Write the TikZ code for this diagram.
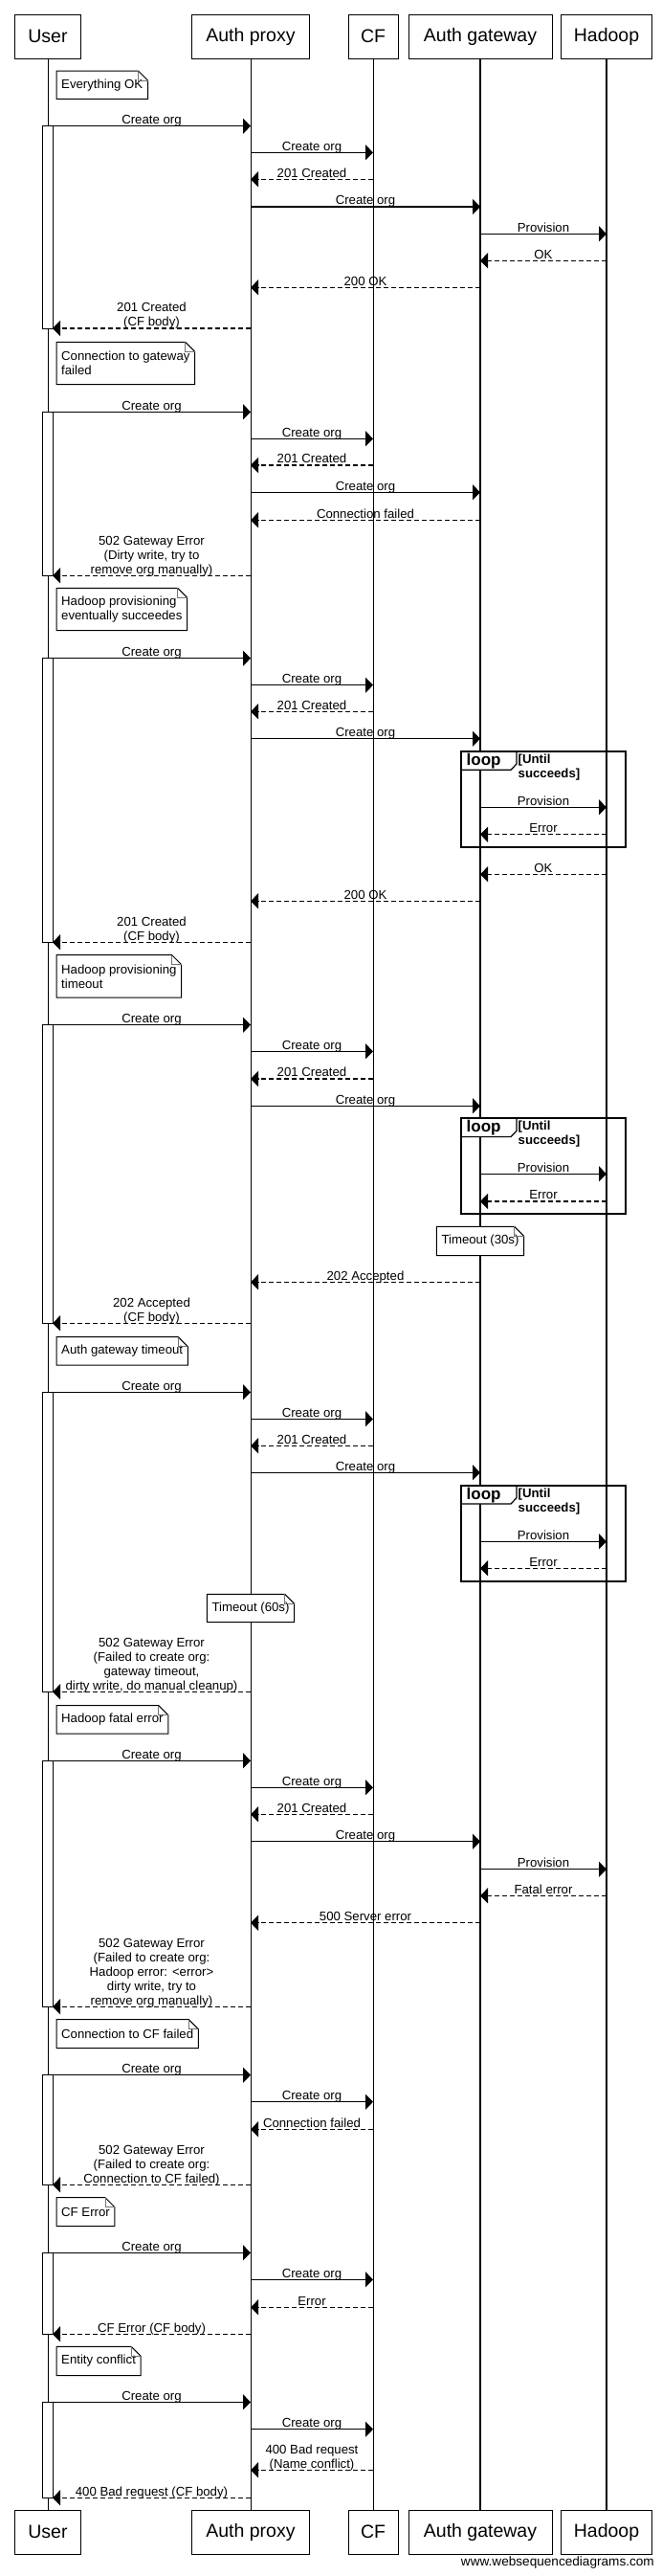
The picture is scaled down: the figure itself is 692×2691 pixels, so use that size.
\documentclass[tikz,border=0pt]{standalone}
\usepackage{fontspec}
\setmainfont{Liberation Sans}
\usetikzlibrary{arrows.meta}

\newcommand\seqml[1]{\begin{tabular}[b]{@{}c@{}}#1\end{tabular}}
\def\xU{50}\def\xUb{55}\def\xP{262}\def\xC{390}\def\xG{502}\def\xH{634}

% name, style, x1, x2, y, label
\newcommand\seqmsg[6]{%
  \coordinate (#1a) at (#3,#5);
  \coordinate (#1b) at (#4,#5);
  \draw[#2] (#1a) -- (#1b) node[lbl, pos=0.5] {\seqml{#6}};}

% [anchor] name, x, y, height, text
\newcommand\seqnote[6][north west]{%
  \node[notebox, anchor=#1, minimum height=#5] (#2) at (#3,#4) {#6};
  \draw[line width=1pt] (#2.south west) -- (#2.north west) -- ([xshift=-10pt]#2.north east)
     -- ([yshift=-10pt]#2.north east) -- (#2.south east) -- cycle;
  \draw[line width=0.7pt, black!55] ([xshift=-10pt]#2.north east) -- ([xshift=-10pt,yshift=-10pt]#2.north east)
     -- ([yshift=-10pt]#2.north east);}

% ytop, ybottom
\newcommand\seqloop[2]{%
  \draw[line width=1.2pt, fill=white] (482,#1) -- (540,#1) -- (540,{#1+13}) -- (534,{#1+19.3}) -- (482,{#1+19.3}) -- cycle;
  \draw[line width=1.8pt] (482,#1) rectangle (654,#2);
  \node[anchor=base west, inner sep=0pt, font=\bfseries\fontsize{17}{20}\selectfont] at (487.5,{#1+14.5}) {loop};
  \node[anchor=base west, inner sep=0pt, font=\bfseries\fontsize{13.2}{15}\selectfont] at (541.5,{#1+12.5})
     {\begin{tabular}[t]{@{}l@{}}[Until\\succeeds]\end{tabular}};}

\newcommand\seqbar[2]{\draw[line width=1pt, fill=white] (44,#1) rectangle (55,#2);}

\begin{document}
\begin{tikzpicture}[x=1pt, y=-1pt, font=\fontsize{13.2}{15}\selectfont,
  actor/.style={draw, line width=1pt, minimum height=46pt, inner sep=0pt, fill=white,
                font=\fontsize{19.5}{22}\selectfont},
  life/.style={line width=1pt},
  lifeb/.style={line width=1.2pt},
  msg/.style={line width=1.2pt, -{Triangle[length=8pt,width=16pt]}},
  ret/.style={msg, dash pattern=on 5pt off 3pt},
  lbl/.style={anchor=base, inner sep=0pt, yshift=2.3pt},
  notebox/.style={fill=white, inner xsep=5pt, inner ysep=0pt, align=left}]
\useasboundingbox (0,0) rectangle (692,2691);

% participants
\node[actor, minimum width=69pt]  (uT) at (\xU,38) {User};
\node[actor, minimum width=123pt] (pT) at (\xP,38) {Auth proxy};
\node[actor, minimum width=52pt]  (cT) at (\xC,38) {CF};
\node[actor, minimum width=150pt] (gT) at (\xG,38) {Auth gateway};
\node[actor, minimum width=95pt]  (hT) at (\xH,38) {Hadoop};
\node[actor, minimum width=69pt]  (uB) at (\xU,2645) {User};
\node[actor, minimum width=123pt] (pB) at (\xP,2645) {Auth proxy};
\node[actor, minimum width=52pt]  (cB) at (\xC,2645) {CF};
\node[actor, minimum width=150pt] (gB) at (\xG,2645) {Auth gateway};
\node[actor, minimum width=95pt]  (hB) at (\xH,2645) {Hadoop};
\draw[life] (uT.south) -- (uB.north);
\draw[life] (pT.south) -- (pB.north);
\draw[life] (cT.south) -- (cB.north);
\draw[lifeb] (gT.south) -- (gB.north);
\draw[lifeb] (hT.south) -- (hB.north);

% activation bars
\seqbar{131.7}{343}
\seqbar{430.3}{601.3}
\seqbar{687.7}{984.3}
\seqbar{1070.7}{1382.3}
\seqbar{1454.3}{1767.3}
\seqbar{1839.3}{2096.3}
\seqbar{2167.7}{2282.3}
\seqbar{2353.3}{2438.3}
\seqbar{2509.3}{2609.3}

% loops
\seqloop{785}{885}
\seqloop{1168.3}{1268.3}
\seqloop{1551.7}{1651.7}

% 1 Everything OK
\seqnote{n1}{59}{74}{29pt}{Everything OK}
\seqmsg{m1}{msg}{\xUb}{\xP}{131.7}{Create org}
\seqmsg{m2}{msg}{\xP}{\xC}{159.3}{Create org}
\seqmsg{m3}{ret}{\xC}{\xP}{187.3}{201 Created}
\seqmsg{m4}{msg}{\xP}{\xG}{216}{Create org}
\seqmsg{m5}{msg}{\xG}{\xH}{244.3}{Provision}
\seqmsg{m6}{ret}{\xH}{\xG}{272.3}{OK}
\seqmsg{m7}{ret}{\xG}{\xP}{300.3}{200 OK}
\seqmsg{m8}{ret}{\xP}{\xUb}{343}{201 Created\\(CF body)}

% 2 Connection to gateway failed
\seqnote{n2}{59}{357.3}{44pt}{Connection to gateway\\failed}
\seqmsg{m9}{msg}{\xUb}{\xP}{430.3}{Create org}
\seqmsg{m10}{msg}{\xP}{\xC}{458.3}{Create org}
\seqmsg{m11}{ret}{\xC}{\xP}{486}{201 Created}
\seqmsg{m12}{msg}{\xP}{\xG}{514.3}{Create org}
\seqmsg{m13}{ret}{\xG}{\xP}{543.3}{Connection failed}
\seqmsg{m14}{ret}{\xP}{\xUb}{601.3}{502 Gateway Error\\(Dirty write, try to\\remove org manually)}

% 3 Hadoop eventually succeeds
\seqnote{n3}{59}{614.3}{44pt}{Hadoop provisioning\\eventually succeedes}
\seqmsg{m15}{msg}{\xUb}{\xP}{687.7}{Create org}
\seqmsg{m16}{msg}{\xP}{\xC}{715.7}{Create org}
\seqmsg{m17}{ret}{\xC}{\xP}{743.3}{201 Created}
\seqmsg{m18}{msg}{\xP}{\xG}{771.7}{Create org}
\seqmsg{m19}{msg}{\xG}{\xH}{843.3}{Provision}
\seqmsg{m20}{ret}{\xH}{\xG}{871.7}{Error}
\seqmsg{m21}{ret}{\xH}{\xG}{913.3}{OK}
\seqmsg{m22}{ret}{\xG}{\xP}{941.3}{200 OK}
\seqmsg{m23}{ret}{\xP}{\xUb}{984.3}{201 Created\\(CF body)}

% 4 Hadoop provisioning timeout
\seqnote{n4}{59}{997.7}{44pt}{Hadoop provisioning\\timeout}
\seqmsg{m24}{msg}{\xUb}{\xP}{1070.7}{Create org}
\seqmsg{m25}{msg}{\xP}{\xC}{1098.3}{Create org}
\seqmsg{m26}{ret}{\xC}{\xP}{1127}{201 Created}
\seqmsg{m27}{msg}{\xP}{\xG}{1155.3}{Create org}
\seqmsg{m28}{msg}{\xG}{\xH}{1226.3}{Provision}
\seqmsg{m29}{ret}{\xH}{\xG}{1255}{Error}
\seqnote[north]{n5}{\xG}{1281.3}{30pt}{Timeout (30s)}
\seqmsg{m30}{ret}{\xG}{\xP}{1339.3}{202 Accepted}
\seqmsg{m31}{ret}{\xP}{\xUb}{1382.3}{202 Accepted\\(CF body)}

% 5 Auth gateway timeout
\seqnote{n6}{59}{1396.7}{29pt}{Auth gateway timeout}
\seqmsg{m32}{msg}{\xUb}{\xP}{1454.3}{Create org}
\seqmsg{m33}{msg}{\xP}{\xC}{1482.3}{Create org}
\seqmsg{m34}{ret}{\xC}{\xP}{1510.3}{201 Created}
\seqmsg{m35}{msg}{\xP}{\xG}{1538.3}{Create org}
\seqmsg{m36}{msg}{\xG}{\xH}{1610.3}{Provision}
\seqmsg{m37}{ret}{\xH}{\xG}{1638.3}{Error}
\seqnote[north]{n7}{\xP}{1665.3}{29pt}{Timeout (60s)}
\seqmsg{m38}{ret}{\xP}{\xUb}{1767.3}{502 Gateway Error\\(Failed to create org:\\gateway timeout,\\dirty write, do manual cleanup)}

% 6 Hadoop fatal error
\seqnote{n8}{59}{1781.7}{29pt}{Hadoop fatal error}
\seqmsg{m39}{msg}{\xUb}{\xP}{1839.3}{Create org}
\seqmsg{m40}{msg}{\xP}{\xC}{1867.3}{Create org}
\seqmsg{m41}{ret}{\xC}{\xP}{1895.3}{201 Created}
\seqmsg{m42}{msg}{\xP}{\xG}{1923.7}{Create org}
\seqmsg{m43}{msg}{\xG}{\xH}{1952.7}{Provision}
\seqmsg{m44}{ret}{\xH}{\xG}{1980.3}{Fatal error}
\seqmsg{m45}{ret}{\xG}{\xP}{2008.7}{500 Server error}
\seqmsg{m46}{ret}{\xP}{\xUb}{2096.3}{502 Gateway Error\\(Failed to create org:\\Hadoop error: <error>\\dirty write, try to\\remove org manually)}

% 7 Connection to CF failed
\seqnote{n9}{59}{2109.7}{29.6pt}{Connection to CF failed}
\seqmsg{m47}{msg}{\xUb}{\xP}{2167.7}{Create org}
\seqmsg{m48}{msg}{\xP}{\xC}{2195.7}{Create org}
\seqmsg{m49}{ret}{\xC}{\xP}{2224.3}{Connection failed}
\seqmsg{m50}{ret}{\xP}{\xUb}{2282.3}{502 Gateway Error\\(Failed to create org:\\Connection to CF failed)}

% 8 CF Error
\seqnote{n10}{59}{2295.7}{29.6pt}{CF Error}
\seqmsg{m51}{msg}{\xUb}{\xP}{2353.3}{Create org}
\seqmsg{m52}{msg}{\xP}{\xC}{2381.3}{Create org}
\seqmsg{m53}{ret}{\xC}{\xP}{2410.3}{Error}
\seqmsg{m54}{ret}{\xP}{\xUb}{2438.3}{CF Error (CF body)}

% 9 Entity conflict
\seqnote{n11}{59}{2451.3}{30pt}{Entity conflict}
\seqmsg{m55}{msg}{\xUb}{\xP}{2509.3}{Create org}
\seqmsg{m56}{msg}{\xP}{\xC}{2537.7}{Create org}
\seqmsg{m57}{ret}{\xC}{\xP}{2580.3}{400 Bad request\\(Name conflict)}
\seqmsg{m58}{ret}{\xP}{\xUb}{2609.3}{400 Bad request (CF body)}

\node[anchor=base east, inner sep=0pt, font=\fontsize{13.6}{16}\selectfont] (wm) at (684,2680) {www.websequencediagrams.com};
\end{tikzpicture}
\end{document}
